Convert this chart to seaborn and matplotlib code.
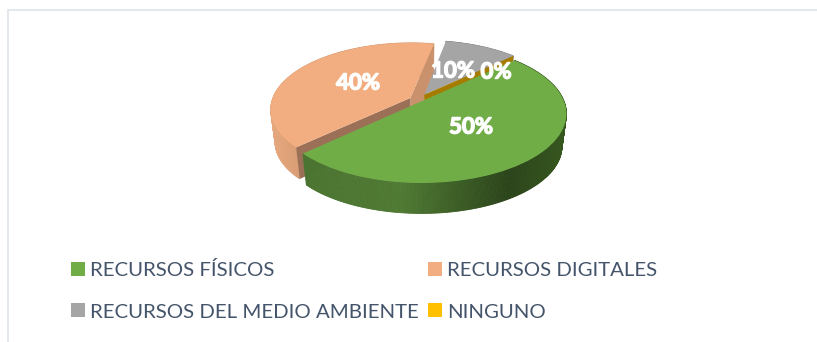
import numpy as np
import matplotlib
matplotlib.use("Agg")
import matplotlib.pyplot as plt
import matplotlib.patheffects as pe
from matplotlib.transforms import Transform, Affine2D
from matplotlib.colors import to_rgb
import seaborn as sns

categories = ["RECURSOS FÍSICOS", "RECURSOS DIGITALES",
              "RECURSOS DEL MEDIO AMBIENTE", "NINGUNO"]
values = [50, 40, 10, 0]
explode = [0.03, 0.06, 0.09, 0.09]
top_colors = ["#70AD47", "#F2AE80", "#A5A5A5", "#FFC000"]

W, H = 817, 342
sns.set_theme(style="white")
plt.rcParams["font.family"] = ["Lato", "DejaVu Sans"]


class Persp(Transform):
    input_dims = 2
    output_dims = 2
    is_separable = False
    has_inverse = False

    def __init__(self, cx=418, cy=100, R=147, a=69, k=0.176):
        super().__init__()
        self.cx, self.cy, self.R, self.a, self.k = cx, cy, R, a, k

    def transform_non_affine(self, xy):
        xy = np.asarray(xy, float)
        w = 1 + self.k * xy[:, 1]
        return np.column_stack([self.cx + self.R * xy[:, 0] / w,
                                self.cy - self.a * xy[:, 1] / w])


persp = Persp()
fig = plt.figure(figsize=(W / 100, H / 100), dpi=100, facecolor="white")
ax = fig.add_axes([0, 0, 1, 1])
wedges, _ = ax.pie(values, explode=explode, colors=top_colors, startangle=43,
                   counterclock=False, radius=1, wedgeprops={"linewidth": 0})
ax.set_aspect("auto")
ax.set_xlim(0, W)
ax.set_ylim(H, 0)
ax.axis("off")

DEPTH = 33
BOTTOM = 0.97
scales = [0.97, 0.94, 0.94, 0.94]
top_z = [30, 10, 14, 14]


def rim(w, s, deg):
    t = np.radians(deg)
    return np.column_stack([w.center[0] + s * np.cos(t), w.center[1] + s * np.sin(t)])


def lower(pts):
    p = pts.copy()
    p[:, 0] = persp.cx + (p[:, 0] - persp.cx) * BOTTOM
    p[:, 1] = persp.cy + (p[:, 1] - persp.cy) * BOTTOM + DEPTH
    return p


def wall_colour(stops, x):
    xs = [st[0] for st in stops]
    rgb = np.array([to_rgb(st[1]) for st in stops])
    return tuple(np.interp(x, xs, rgb[:, i]) for i in range(3))


wall_stops = [
    [(300, "#4B7431"), (400, "#4F7A33"), (510, "#2B441A"), (565, "#36561F")],
    [(270, "#E6A97F"), (300, "#D89C74")],
    [(400, "#7C7C7C"), (520, "#8C8C8C")],
    [(400, "#A67C00"), (520, "#A67C00")],
]
wall_z = [20, 6, 2, 2]

# outer walls drawn as thin strips from each slice's angle span
for w, s, stops, z in zip(wedges, scales, wall_stops, wall_z):
    if w.theta2 - w.theta1 < 0.01:
        continue
    deg = np.linspace(w.theta1, w.theta2, int((w.theta2 - w.theta1) * 1.5) + 2)
    up = persp.transform(rim(w, s, deg))
    lo = lower(up)
    for i in range(len(deg) - 1):
        col = wall_colour(stops, up[i, 0])
        ax.fill([up[i, 0], up[i + 1, 0], lo[i + 1, 0], lo[i, 0]],
                [up[i, 1], up[i + 1, 1], lo[i + 1, 1], lo[i, 1]],
                color=col, lw=0.6, zorder=z, clip_on=False)


def cut_face(w, s, deg, col, z):
    a0 = persp.transform(np.array([w.center]))
    r0 = persp.transform(rim(w, s, np.array([deg])))
    up = np.vstack([a0, r0])
    lo = lower(up)
    ax.fill([up[0, 0], up[1, 0], lo[1, 0], lo[0, 0]],
            [up[0, 1], up[1, 1], lo[1, 1], lo[0, 1]],
            color=col, lw=0, zorder=z, clip_on=False)


# visible cut faces
cut_face(wedges[1], scales[1], wedges[1].theta1, "#C9926C", 8)   # faces the grey slice
cut_face(wedges[1], scales[1], wedges[1].theta2, "#9C7057", 8)   # faces the green slice
cut_face(wedges[2], scales[2], wedges[2].theta1, "#A67C00", 15)  # zero-width slice edge

# top faces from the pie wedges, pushed through the perspective
for w, s, z in zip(wedges, scales, top_z):
    cx0, cy0 = w.center
    tr = Affine2D().translate(-cx0, -cy0).scale(s).translate(cx0, cy0) + persp + ax.transData
    w.set_transform(tr)
    w.set_clip_on(False)
    w.set_zorder(z)

label_pos = [(471, 127), (358, 83), (453, 71), (496, 72)]
for v, (x, y) in zip(values, label_pos):
    ax.text(x, y, f"{v}%", color="white", fontsize=16, fontweight="bold",
            ha="center", va="center", zorder=40,
            path_effects=[pe.withStroke(linewidth=1.0, foreground="white")])

order = [0, 2, 1, 3]  # the legend fills column by column
leg = ax.legend([wedges[i] for i in order], [categories[i] for i in order],
                ncol=2, loc="upper left",
                bbox_to_anchor=(71, 261), bbox_transform=ax.transData,
                frameon=False, fontsize=14.65, labelcolor="#44546A",
                handlelength=0.68, handleheight=0.68, handletextpad=0.25,
                columnspacing=0.45, labelspacing=1.2, borderpad=0, borderaxespad=0)

# thin chart frame
ax.plot([8, 8, W], [H, 10, 10], color="#E3E8EE", lw=1.4, zorder=1,
        solid_joinstyle="miter")

fig.savefig("out.png", dpi=100)
